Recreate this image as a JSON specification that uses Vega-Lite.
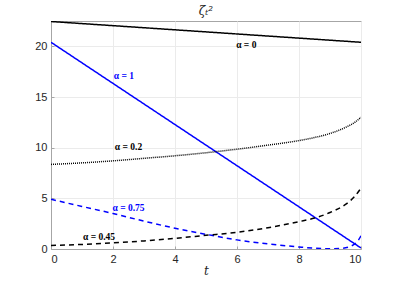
{
  "$schema": "https://vega.github.io/schema/vega-lite/v6.json",
  "width": 310,
  "height": 228,
  "autosize": "none",
  "padding": {"left": 51, "top": 21, "right": 38, "bottom": 33},
  "background": "white",
  "title": {"text": "ζₜ²", "font": "DejaVu Serif", "fontStyle": "italic", "fontWeight": "normal", "fontSize": 12, "color": "#222", "offset": 3},
  "config": {
    "view": {"stroke": "#a6a6a6", "strokeWidth": 1},
    "axis": {
      "gridColor": "#ebebeb", "gridOpacity": 1, "domainColor": "#a6a6a6", "tickColor": "#a6a6a6",
      "labelFont": "Liberation Sans", "labelFontSize": 11, "labelColor": "#262626",
      "tickSize": -3, "labelPadding": 7
    }
  },
  "datasets": {
    "curves": [
      {"series": "α = 0", "t": 0, "y": 22.45}, {"series": "α = 0", "t": 10, "y": 20.4},
      {"series": "α = 1", "t": 0, "y": 20.4}, {"series": "α = 1", "t": 10, "y": 0.1},
      {"series": "α = 0.2", "t": 0, "y": 8.35}, {"series": "α = 0.2", "t": 1, "y": 8.5}, {"series": "α = 0.2", "t": 2, "y": 8.7}, {"series": "α = 0.2", "t": 3, "y": 8.95}, {"series": "α = 0.2", "t": 4, "y": 9.2}, {"series": "α = 0.2", "t": 5, "y": 9.5}, {"series": "α = 0.2", "t": 6, "y": 9.85}, {"series": "α = 0.2", "t": 7, "y": 10.25}, {"series": "α = 0.2", "t": 8, "y": 10.7}, {"series": "α = 0.2", "t": 8.5, "y": 11.0}, {"series": "α = 0.2", "t": 9, "y": 11.4}, {"series": "α = 0.2", "t": 9.5, "y": 12.0}, {"series": "α = 0.2", "t": 9.8, "y": 12.5}, {"series": "α = 0.2", "t": 10, "y": 13.0},
      {"series": "α = 0.75", "t": 0, "y": 4.9}, {"series": "α = 0.75", "t": 1, "y": 4.2}, {"series": "α = 0.75", "t": 2, "y": 3.5}, {"series": "α = 0.75", "t": 3, "y": 2.75}, {"series": "α = 0.75", "t": 4, "y": 2.05}, {"series": "α = 0.75", "t": 5, "y": 1.45}, {"series": "α = 0.75", "t": 6, "y": 0.9}, {"series": "α = 0.75", "t": 7, "y": 0.5}, {"series": "α = 0.75", "t": 8, "y": 0.2}, {"series": "α = 0.75", "t": 8.5, "y": 0.08}, {"series": "α = 0.75", "t": 9, "y": 0.03}, {"series": "α = 0.75", "t": 9.3, "y": 0.05}, {"series": "α = 0.75", "t": 9.6, "y": 0.2}, {"series": "α = 0.75", "t": 9.8, "y": 0.5}, {"series": "α = 0.75", "t": 9.9, "y": 0.8}, {"series": "α = 0.75", "t": 10, "y": 1.3},
      {"series": "α = 0.45", "t": 0, "y": 0.35}, {"series": "α = 0.45", "t": 1, "y": 0.45}, {"series": "α = 0.45", "t": 2, "y": 0.6}, {"series": "α = 0.45", "t": 3, "y": 0.8}, {"series": "α = 0.45", "t": 4, "y": 1.05}, {"series": "α = 0.45", "t": 5, "y": 1.35}, {"series": "α = 0.45", "t": 6, "y": 1.65}, {"series": "α = 0.45", "t": 7, "y": 2.1}, {"series": "α = 0.45", "t": 8, "y": 2.7}, {"series": "α = 0.45", "t": 8.5, "y": 3.05}, {"series": "α = 0.45", "t": 9, "y": 3.6}, {"series": "α = 0.45", "t": 9.5, "y": 4.4}, {"series": "α = 0.45", "t": 9.8, "y": 5.2}, {"series": "α = 0.45", "t": 10, "y": 6.0}
    ],
    "labels": [
      {"series": "α = 0", "t": 6.3, "y": 20.1},
      {"series": "α = 1", "t": 2.35, "y": 17.1},
      {"series": "α = 0.2", "t": 2.5, "y": 10.05},
      {"series": "α = 0.75", "t": 2.5, "y": 4.0},
      {"series": "α = 0.45", "t": 1.55, "y": 1.15}
    ]
  },
  "encoding": {
    "x": {"field": "t", "type": "quantitative", "scale": {"domain": [0, 10], "nice": false}, "axis": {"values": [0, 2, 4, 6, 8, 10], "title": "t", "titleFont": "DejaVu Serif", "titleFontStyle": "italic", "titleFontWeight": "normal", "titleFontSize": 12, "titleColor": "#262626", "titlePadding": 1}},
    "y": {"field": "y", "type": "quantitative", "scale": {"domain": [0, 22.5], "nice": false}, "axis": {"values": [0, 5, 10, 15, 20], "title": null}},
    "color": {"field": "series", "type": "nominal", "scale": {"domain": ["α = 0", "α = 1", "α = 0.2", "α = 0.75", "α = 0.45"], "range": ["#000000", "#0000ff", "#000000", "#0000ff", "#000000"]}, "legend": null}
  },
  "layer": [
    {
      "data": {"name": "curves"},
      "mark": {"type": "line", "strokeWidth": 1.5, "interpolate": "monotone", "clip": true},
      "encoding": {
        "detail": {"field": "series"},
        "strokeDash": {"field": "series", "type": "nominal", "scale": {"domain": ["α = 0", "α = 1", "α = 0.2", "α = 0.75", "α = 0.45"], "range": [[1, 0], [1, 0], [1, 1], [5, 4], [5, 4]]}, "legend": null}
      }
    },
    {
      "data": {"name": "labels"},
      "mark": {"type": "text", "font": "Liberation Serif", "fontSize": 9.5, "fontWeight": "bold"},
      "encoding": {"text": {"field": "series"}}
    }
  ]
}
